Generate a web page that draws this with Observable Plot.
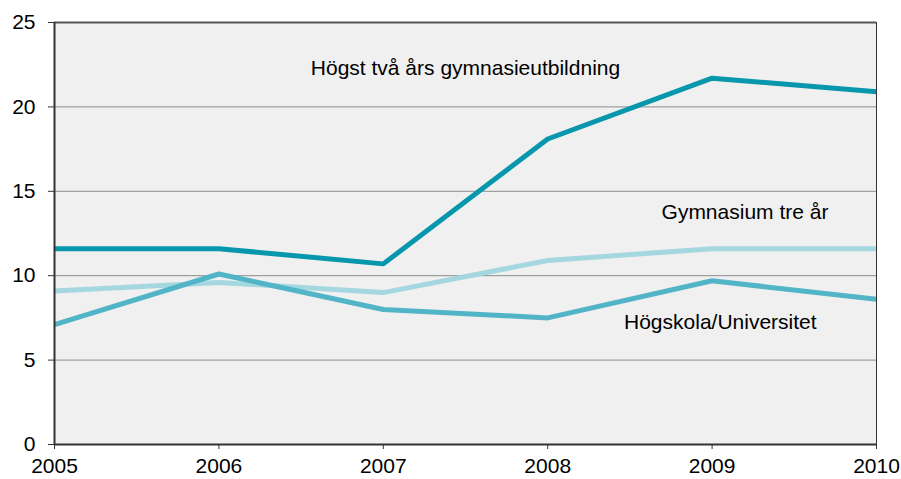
<!DOCTYPE html>
<html>
<head>
<meta charset="utf-8">
<script src="https://cdn.jsdelivr.net/npm/d3@7"></script>
<script src="https://cdn.jsdelivr.net/npm/@observablehq/plot@0.6"></script>
<style>
  html, body { margin: 0; padding: 0; background: #fff; }
  svg { font-family: "Liberation Sans", Arial, sans-serif; }
</style>
</head>
<body>
<div id="chart"></div>
<script>
const years = [2005, 2006, 2007, 2008, 2009, 2010];
const seriesNames = ["Högst två års gymnasieutbildning", "Gymnasium tre år", "Högskola/Universitet"];
const hogst = [11.6, 11.6, 10.7, 18.1, 21.7, 20.9];
const gymnasium = [9.1, 9.6, 9.0, 10.9, 11.6, 11.6];
const hogskola = [7.1, 10.1, 8.0, 7.5, 9.7, 8.6];
const yTicks = [0, 5, 10, 15, 20, 25];
const colors = ["#0797ad", "#a5d7e1", "#52b4c7"];
// label anchor points in data units
const labelX = [2007.5, 2009.2, 2009.05];
const labelY = [22.3, 13.75, 7.25];

const allSeries = [hogst, gymnasium, hogskola];
const rows = [];
allSeries.forEach((vals, si) => {
  vals.forEach((v, i) => rows.push({series: seriesNames[si], year: years[i], value: v}));
});
const labels = seriesNames.map((s, i) => ({text: s, x: labelX[i], y: labelY[i]}));

const drawOrder = [seriesNames[1], seriesNames[2], seriesNames[0]];
const FS = 21;

const chart = Plot.plot({
  width: 901,
  height: 479,
  marginLeft: 54,
  marginRight: 25,
  marginTop: 22,
  marginBottom: 35,
  style: {fontSize: FS + "px", fontFamily: "Liberation Sans, Arial, sans-serif", color: "#000"},
  x: {domain: [2005, 2010], label: null},
  y: {domain: [0, 25], label: null},
  marks: [
    Plot.frame({fill: "#f0f0f0", stroke: null}),
    Plot.gridY(yTicks.filter(t => t > 0 && t < 25), {stroke: "#8c8c8c", strokeOpacity: 1, strokeWidth: 1}),
    ...drawOrder.map(s => Plot.line(rows.filter(r => r.series === s), {x: "year", y: "value", stroke: colors[seriesNames.indexOf(s)], strokeWidth: 5, strokeLinejoin: "miter", strokeLinecap: "butt"})),
    Plot.ruleY([25], {stroke: "#555", strokeWidth: 2}),
    Plot.ruleX([2010], {stroke: "#333", strokeWidth: 1}),
    Plot.ruleY([0], {stroke: "#333", strokeWidth: 2}),
    Plot.ruleX([2005], {stroke: "#333", strokeWidth: 2}),
    Plot.axisX({ticks: years, tickFormat: d => String(d), tickSize: 5, tickPadding: 9, stroke: "#333", fill: "#000", fontSize: FS}),
    Plot.axisY({ticks: yTicks, tickSize: 6, tickPadding: 13, stroke: "#333", fill: "#000", fontSize: FS}),
    Plot.text(labels, {x: "x", y: "y", text: "text", fill: "#000", fontSize: FS, textAnchor: "middle"})
  ]
});
document.getElementById("chart").appendChild(chart);
</script>
</body>
</html>
